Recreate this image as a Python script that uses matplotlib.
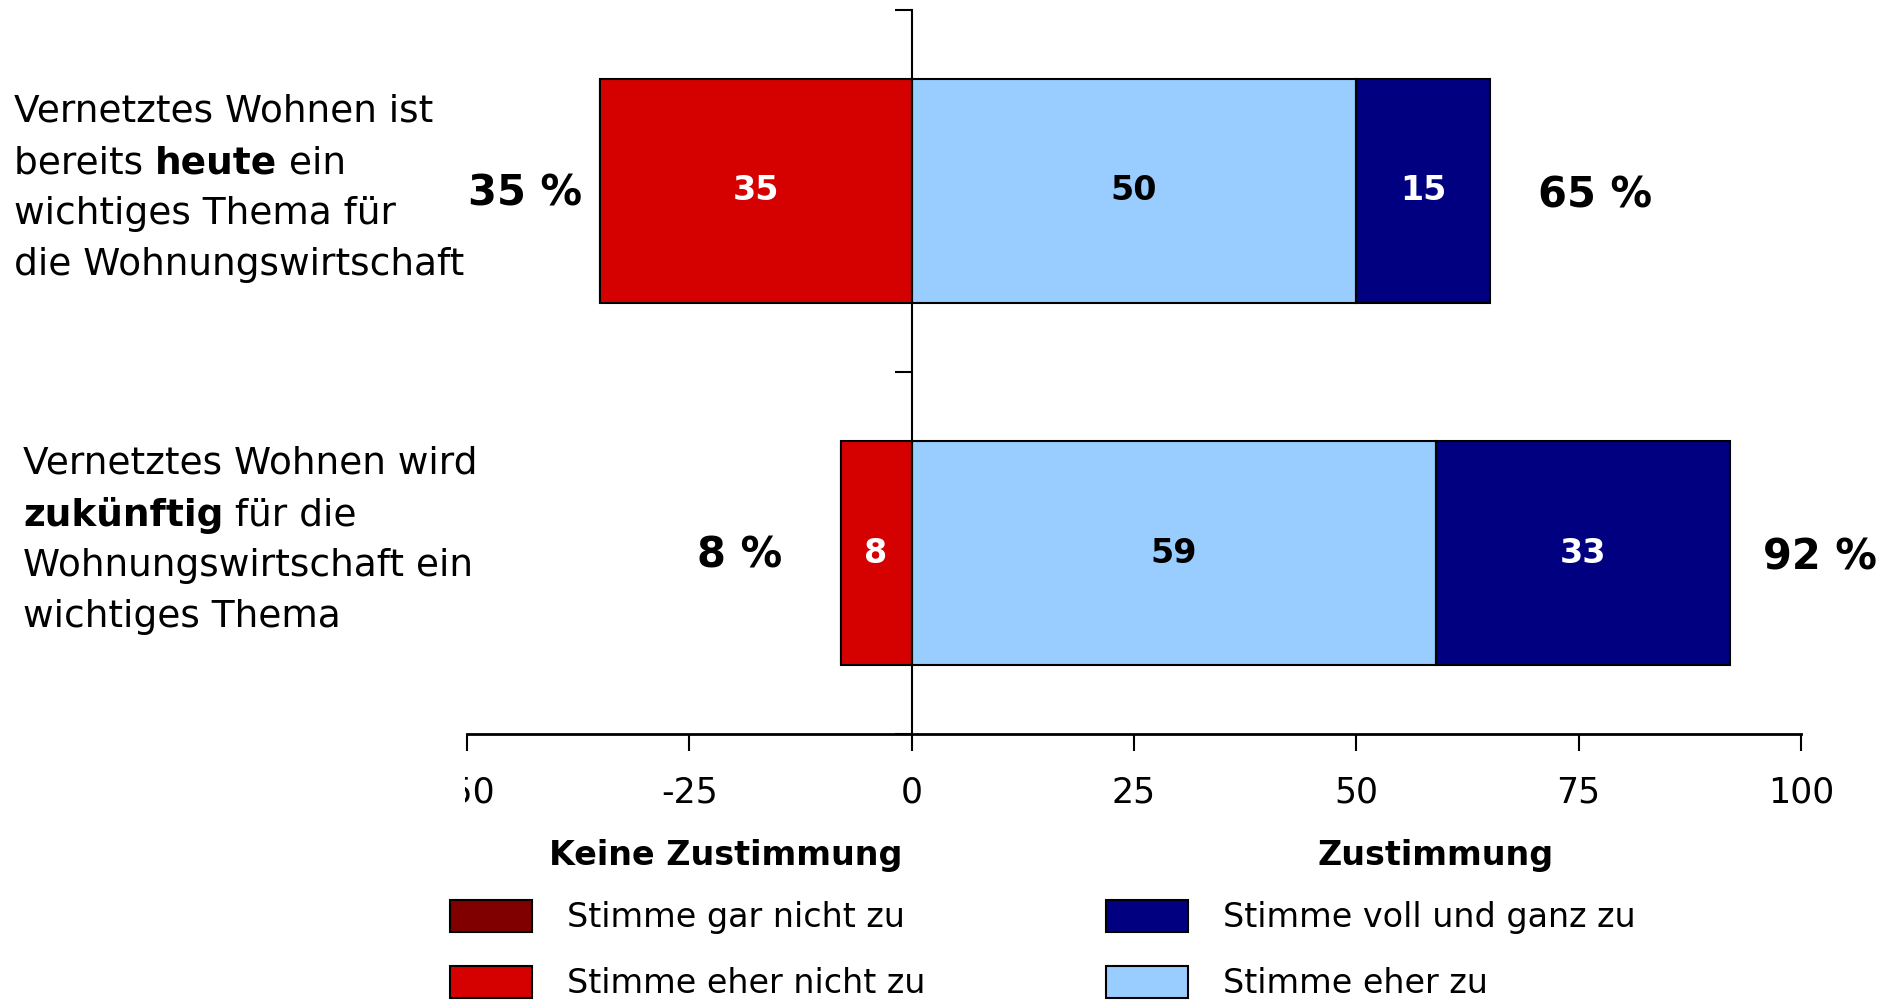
import matplotlib
matplotlib.use('Agg')
import matplotlib.pyplot as plt
from matplotlib import font_manager
from matplotlib.transforms import Bbox, TransformedBbox, IdentityTransform

available = {f.name for f in font_manager.fontManager.ttflist}
FONT = 'Liberation Sans Narrow' if 'Liberation Sans Narrow' in available else 'DejaVu Sans'
plt.rcParams['font.family'] = FONT

# data
gar_nicht = [0, 0]          # Stimme gar nicht zu
eher_nicht = [35, 8]        # Stimme eher nicht zu
eher_zu = [50, 59]          # Stimme eher zu
voll = [15, 33]             # Stimme voll und ganz zu
x_ticks = [-50, -25, 0, 25, 50, 75, 100]

# question text, one list of (segment, bold) per line
question_lines = [
    [[('Vernetztes Wohnen ist', False)],
     [('bereits ', False), ('heute', True), (' ein', False)],
     [('wichtiges Thema für', False)],
     [('die Wohnungswirtschaft', False)]],
    [[('Vernetztes Wohnen wird', False)],
     [('zukünftig', True), (' für die', False)],
     [('Wohnungswirtschaft ein', False)],
     [('wichtiges Thema', False)]],
]
legend_left_title = 'Keine Zustimmung'
legend_right_title = 'Zustimmung'
legend_left = ['Stimme gar nicht zu', 'Stimme eher nicht zu']
legend_right = ['Stimme voll und ganz zu', 'Stimme eher zu']

# colours
C_GAR = '#800000'
C_EHER_NICHT = '#D50000'
C_EHER_ZU = '#99CCFF'
C_VOLL = '#000080'

FS = 27

fig = plt.figure(figsize=(18.97, 10.02), dpi=100)
ax = fig.add_axes([467 / 1897, 1 - 734 / 1002, (1801 - 467) / 1897, (734 - 10) / 1002])

ypos = [1, 0]
h = 0.62
edge = dict(edgecolor='black', linewidth=1.5)

neg_inner = [-v for v in eher_nicht]
neg_outer = [-(a + b) for a, b in zip(eher_nicht, gar_nicht)]
b_gar = ax.barh(ypos, gar_nicht, left=neg_outer, height=h, color=C_GAR, **edge)
b_en = ax.barh(ypos, eher_nicht, left=neg_inner, height=h, color=C_EHER_NICHT, **edge)
b_ez = ax.barh(ypos, eher_zu, left=0, height=h, color=C_EHER_ZU, **edge)
b_vo = ax.barh(ypos, voll, left=eher_zu, height=h, color=C_VOLL, **edge)

ax.bar_label(b_en, labels=[str(v) for v in eher_nicht], label_type='center',
             color='white', fontweight='bold', fontsize=24)
ax.bar_label(b_ez, labels=[str(v) for v in eher_zu], label_type='center',
             color='black', fontweight='bold', fontsize=24)
ax.bar_label(b_vo, labels=[str(v) for v in voll], label_type='center',
             color='white', fontweight='bold', fontsize=24)

# totals beside the bars
neg_gap = [18, 58]
pos_gap = [48, 33]
for i, y in enumerate(ypos):
    neg = eher_nicht[i] + gar_nicht[i]
    pos = eher_zu[i] + voll[i]
    ax.annotate(f'{neg} %', xy=(-neg, y), xytext=(-neg_gap[i], -2), textcoords='offset pixels',
                ha='right', va='center', fontsize=30, fontweight='bold')
    ax.annotate(f'{pos} %', xy=(pos, y), xytext=(pos_gap[i], -5), textcoords='offset pixels',
                ha='left', va='center', fontsize=30, fontweight='bold')

ax.set_xlim(-50, 100)
ax.set_ylim(-0.5, 1.5)
ax.set_xticks(x_ticks)
ax.set_xticklabels([str(t) for t in x_ticks])
ax.set_yticks([-0.5, 0.5, 1.5])
ax.set_yticklabels([])
ax.spines['left'].set_position(('data', 0))
ax.spines['top'].set_visible(False)
ax.spines['right'].set_visible(False)
ax.spines['left'].set_linewidth(1.5)
ax.spines['bottom'].set_linewidth(2)
ax.tick_params(axis='x', direction='out', length=12, width=1.5, pad=18, labelsize=25)
ax.tick_params(axis='y', direction='out', length=12, width=1.5)

# the leftmost tick label is cut off in the original
clip = TransformedBbox(Bbox([[465, 0], [1897, 1002]]), IdentityTransform())
first = ax.get_xticklabels()[0]
first.set_clip_box(clip)
first.set_clip_on(True)

# question labels with inline bold words
starts = [(14, 112), (23, 464)]
line_step = 51
for (x0, y0), lines in zip(starts, question_lines):
    for j, segs in enumerate(lines):
        yc = 1 - (y0 + j * line_step) / 1002
        prev = None
        for text, bold in segs:
            w = 'bold' if bold else 'normal'
            if prev is None:
                prev = fig.text(x0 / 1897, yc, text, fontsize=FS, fontweight=w, va='center', ha='left')
            else:
                prev = ax.annotate(text, xy=(1, 0), xycoords=prev, fontsize=FS, fontweight=w,
                                   va='bottom', ha='left', annotation_clip=False)

# legend
LFS = 24
fig.text(726 / 1897, 1 - 856 / 1002, legend_left_title, fontsize=LFS, fontweight='bold',
         ha='center', va='center')
fig.text(1436 / 1897, 1 - 856 / 1002, legend_right_title, fontsize=LFS, fontweight='bold',
         ha='center', va='center')
leg_kw = dict(loc='upper left', frameon=False, fontsize=LFS, borderpad=0, borderaxespad=0,
              handlelength=2.45, handleheight=1.1, handletextpad=1.05, labelspacing=0.95)
fig.legend(handles=[b_gar, b_en], labels=legend_left,
           bbox_to_anchor=(450 / 1897, 1 - 900 / 1002), **leg_kw)
fig.legend(handles=[b_vo, b_ez], labels=legend_right,
           bbox_to_anchor=(1106 / 1897, 1 - 900 / 1002), **leg_kw)

fig.savefig('out.png', dpi=100)
